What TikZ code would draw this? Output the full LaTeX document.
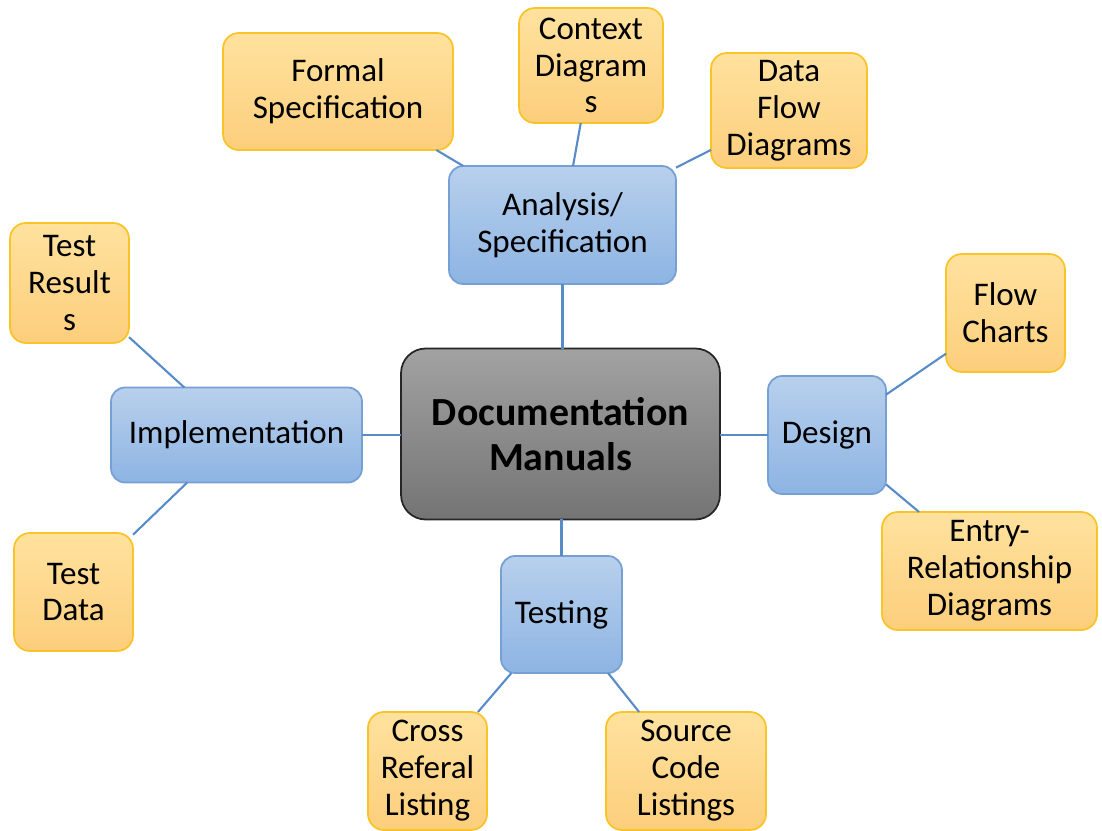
\documentclass[tikz,border=0pt]{standalone}
\usepackage{fontspec}
\setmainfont{Carlito}
\definecolor{bluetop}{RGB}{184,208,236}
\definecolor{bluebot}{RGB}{141,180,227}
\definecolor{blueedge}{RGB}{118,160,212}
\definecolor{orgtop}{RGB}{255,226,158}
\definecolor{orgbot}{RGB}{252,206,124}
\definecolor{orgedge}{RGB}{250,196,40}
\definecolor{graytop}{RGB}{162,162,162}
\definecolor{graybot}{RGB}{116,116,116}
\definecolor{grayedge}{RGB}{38,38,38}
\definecolor{linkcol}{RGB}{88,140,200}
\begin{document}
\begin{tikzpicture}[x=0.02cm,y=-0.02cm,
  base/.style={rectangle, inner sep=0pt, outer sep=0pt, align=center,
    font=\fontsize{18.8}{21}\selectfont, text=black, line width=1pt},
  obox/.style={base, draw=orgedge, top color=orgtop, bottom color=orgbot, rounded corners=9pt},
  bbox/.style={base, draw=blueedge, top color=bluetop, bottom color=bluebot, rounded corners=8pt},
  cbox/.style={base, draw=grayedge, top color=graytop, bottom color=graybot, rounded corners=14pt,
    font=\bfseries\fontsize{22.7}{25.5}\selectfont},
  link/.style={draw=linkcol, line width=1.2pt}]
\useasboundingbox (0,0) rectangle (1102,831);
\clip (0,0) rectangle (1102,831);
% central
\node[cbox, minimum width=6.38cm, minimum height=3.42cm] (center) at (560.5,434) {Documentation\\Manuals};
% blue
\node[bbox, minimum width=4.54cm, minimum height=2.36cm] (analysis) at (562.5,225) {Analysis/\\Specification};
\node[bbox, minimum width=5.02cm, minimum height=1.90cm] (impl) at (236.5,435) {Implementation};
\node[bbox, minimum width=2.36cm, minimum height=2.36cm] (design) at (827,435) {Design};
\node[bbox, minimum width=2.42cm, minimum height=2.34cm] (testing) at (561.5,614.5) {Testing};
% orange
\node[obox, minimum width=4.60cm, minimum height=2.34cm] (formal) at (338,91.5) {Formal\\Specification};
\node[obox, minimum width=2.88cm, minimum height=2.30cm] (context) at (591,65.5) {Context\\Diagram\\s};
\node[obox, minimum width=3.12cm, minimum height=2.30cm] (dataflow) at (789,110.5) {Data\\Flow\\Diagrams};
\node[obox, minimum width=2.38cm, minimum height=2.40cm] (testres) at (69.5,283) {Test\\Result\\s};
\node[obox, minimum width=2.38cm, minimum height=2.36cm] (testdata) at (73.5,592) {Test\\Data};
\node[obox, minimum width=2.38cm, minimum height=2.36cm] (flow) at (1005.5,313) {Flow\\Charts};
\node[obox, minimum width=4.30cm, minimum height=2.36cm] (entry) at (989.5,571) {Entry-\\Relationship\\Diagrams};
\node[obox, minimum width=2.38cm, minimum height=2.36cm] (cross) at (427.5,771) {Cross\\Referal\\Listing};
\node[obox, minimum width=3.20cm, minimum height=2.36cm] (source) at (686,771) {Source\\Code\\Listings};
% connectors
\path[link] (center.north -| analysis.south) -- (analysis.south);
\path[link] (center.west |- impl.east) -- (impl.east);
\path[link] (center.east |- design.west) -- (design.west);
\path[link] (center.south -| testing.north) -- (testing.north);
\path[link] (analysis) -- (formal);
\path[link] (analysis) -- (context);
\path[link] (analysis) -- (dataflow);
\path[link] (impl) -- (testres);
\path[link] (impl) -- (testdata);
\path[link] (design) -- (flow);
\path[link] (design) -- (entry);
\path[link] (testing) -- (cross);
\path[link] (testing) -- (source);
\end{tikzpicture}
\end{document}
